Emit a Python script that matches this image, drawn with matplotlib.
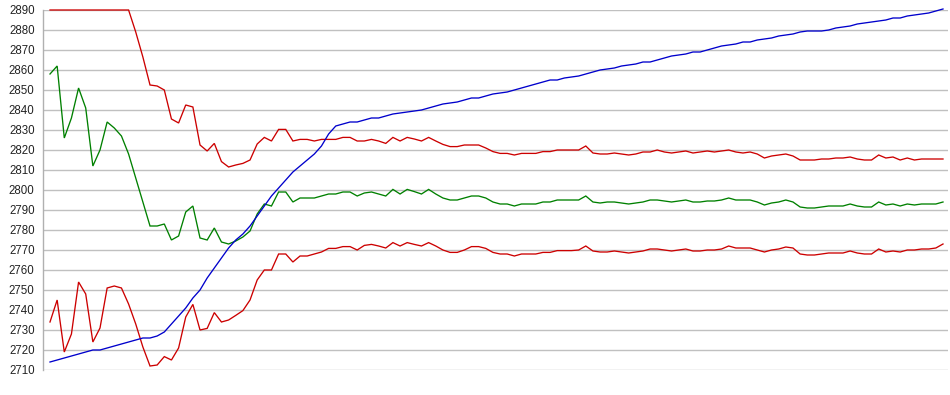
import matplotlib
matplotlib.use("Agg")
import matplotlib.pyplot as plt

y_ticks = list(range(2710, 2891, 10))

blue = [2714, 2715, 2716, 2717, 2718, 2719, 2720, 2720, 2721, 2722,
        2723, 2724, 2725, 2726, 2726, 2727, 2729, 2733, 2737, 2741,
        2746, 2750, 2756, 2761, 2766, 2771, 2775, 2778, 2782, 2787,
        2792, 2797, 2801, 2805, 2809, 2812, 2815, 2818, 2822, 2828,
        2832, 2833, 2834, 2834, 2835, 2836, 2836, 2837, 2838, 2838.5,
        2839, 2839.5, 2840, 2841, 2842, 2843, 2843.5, 2844, 2845, 2846,
        2846, 2847, 2848, 2848.5, 2849, 2850, 2851, 2852, 2853, 2854,
        2855, 2855, 2856, 2856.5, 2857, 2858, 2859, 2860, 2860.5, 2861,
        2862, 2862.5, 2863, 2864, 2864, 2865, 2866, 2867, 2867.5, 2868,
        2869, 2869, 2870, 2871, 2872, 2872.5, 2873, 2874, 2874, 2875,
        2875.5, 2876, 2877, 2877.5, 2878, 2879, 2879.5, 2879.5, 2879.5, 2880,
        2881, 2881.5, 2882, 2883, 2883.5, 2884, 2884.5, 2885, 2886, 2886,
        2887, 2887.5, 2888, 2888.5, 2889.5, 2890.5]

upper = [2890, 2890, 2890, 2890, 2890, 2890, 2890, 2890, 2890, 2890,
         2890, 2890, 2879, 2866.5, 2852.5, 2852, 2850, 2835.5, 2833.5, 2842.5,
         2841.5, 2822.5, 2819.5, 2823.3, 2814.2, 2811.5, 2812.5, 2813.3, 2815, 2823,
         2826.3, 2824.5, 2830.3, 2830.3, 2824.5, 2825.3, 2825.3, 2824.5, 2825.3, 2825.3,
         2825.3, 2826.3, 2826.3, 2824.5, 2824.5, 2825.3, 2824.5, 2823.3, 2826.3, 2824.5,
         2826.3, 2825.5, 2824.5, 2826.3, 2824.5, 2822.8, 2821.7, 2821.7, 2822.5, 2822.5,
         2822.5, 2821, 2819.2, 2818.3, 2818.3, 2817.5, 2818.3, 2818.3, 2818.3, 2819.2,
         2819.2, 2820, 2820, 2820, 2820, 2822, 2818.5, 2818, 2818, 2818.5,
         2818, 2817.5, 2818, 2819, 2819, 2820, 2819, 2818.5, 2819, 2819.5,
         2818.5, 2819, 2819.5, 2819, 2819.5, 2820, 2819, 2818.5, 2819, 2818,
         2816, 2817, 2817.5, 2818, 2817, 2815, 2815, 2815, 2815.5, 2815.5,
         2816, 2816, 2816.5, 2815.5, 2815, 2815, 2817.5, 2816, 2816.5, 2815,
         2816, 2815, 2815.5, 2815.5, 2815.5, 2815.5]

middle = [2858, 2862, 2826, 2836, 2851, 2841, 2812, 2820, 2834, 2831,
          2827, 2818, 2806, 2794, 2782, 2782, 2783, 2775, 2777, 2789,
          2792, 2776, 2775, 2781, 2774, 2773, 2774.5, 2776.5, 2779.5, 2788,
          2793, 2792, 2799, 2799, 2794, 2796, 2796, 2796, 2797, 2798,
          2798, 2799, 2799, 2797, 2798.5, 2799, 2798, 2797, 2800.3, 2798,
          2800.3, 2799.2, 2798, 2800.3, 2798, 2796, 2795, 2795, 2796, 2797,
          2797, 2796, 2794, 2793, 2793, 2792, 2793, 2793, 2793, 2794,
          2794, 2795, 2795, 2795, 2795, 2797, 2794, 2793.5, 2794, 2794,
          2793.5, 2793, 2793.5, 2794, 2795, 2795, 2794.5, 2794, 2794.5, 2795,
          2794, 2794, 2794.5, 2794.5, 2795, 2796, 2795, 2795, 2795, 2794,
          2792.5, 2793.5, 2794, 2795, 2794, 2791.5, 2791, 2791, 2791.5, 2792,
          2792, 2792, 2793, 2792, 2791.5, 2791.5, 2794, 2792.5, 2793, 2792,
          2793, 2792.5, 2793, 2793, 2793, 2794]

lower = [2734, 2745, 2719, 2728, 2754, 2748, 2724, 2731, 2751, 2752,
         2751, 2743, 2733, 2721.5, 2712, 2712.5, 2716.7, 2715, 2721, 2736.5,
         2742.8, 2730, 2730.8, 2738.7, 2734, 2735, 2737.3, 2739.7, 2745, 2755,
         2760, 2760, 2768, 2768, 2764, 2767, 2767, 2768, 2769, 2770.8,
         2770.8, 2771.7, 2771.7, 2770, 2772.3, 2772.8, 2772, 2771, 2773.7, 2772,
         2773.7, 2772.8, 2772, 2773.7, 2772, 2770, 2768.8, 2768.8, 2770, 2771.7,
         2771.7, 2770.8, 2768.8, 2768, 2768, 2767, 2768, 2768, 2768, 2768.8,
         2768.8, 2769.7, 2769.7, 2769.7, 2770, 2772, 2769.5, 2769, 2769, 2769.5,
         2769, 2768.5, 2769, 2769.5, 2770.5, 2770.5, 2770, 2769.5, 2770, 2770.5,
         2769.5, 2769.5, 2770, 2770, 2770.5, 2772, 2771, 2771, 2771, 2770,
         2769, 2770, 2770.5, 2771.5, 2771, 2768, 2767.5, 2767.5, 2768, 2768.5,
         2768.5, 2768.5, 2769.5, 2768.5, 2768, 2768, 2770.5, 2769, 2769.5, 2769,
         2770, 2770, 2770.5, 2770.5, 2771, 2773]

plt.rcParams['font.family'] = ['Liberation Sans', 'DejaVu Sans']

fig = plt.figure(figsize=(9.5, 3.95), dpi=100)
ax = fig.add_axes([43 / 950, 1 - 370 / 395, (948 - 43) / 950, 360 / 395])

n = len(blue)
xs = list(range(n))
step = 893 / (n - 1)

for series, color in ((upper, '#CC0000'), (lower, '#CC0000'),
                      (middle, '#008000'), (blue, '#0000CC')):
    ax.plot(xs[:len(series)], series, color=color, lw=0.95, clip_on=False,
            solid_joinstyle='miter', antialiased=True)

ax.set_ylim(2710, 2890)
ax.set_xlim(-7 / step, (n - 1) + 5 / step)
ax.set_yticks(y_ticks)
ax.set_yticklabels([str(v) for v in y_ticks], fontsize=8.3, color='#222222')
ax.tick_params(axis='y', length=0, pad=6)
ax.set_xticks([])
ax.grid(axis='y', color='#C0C0C0', lw=1.0)
ax.set_axisbelow(True)
for s in ('top', 'right', 'bottom'):
    ax.spines[s].set_visible(False)
ax.spines['left'].set_color('#B0B0B0')
ax.spines['left'].set_linewidth(1.0)

fig.savefig('out.png', dpi=100)
